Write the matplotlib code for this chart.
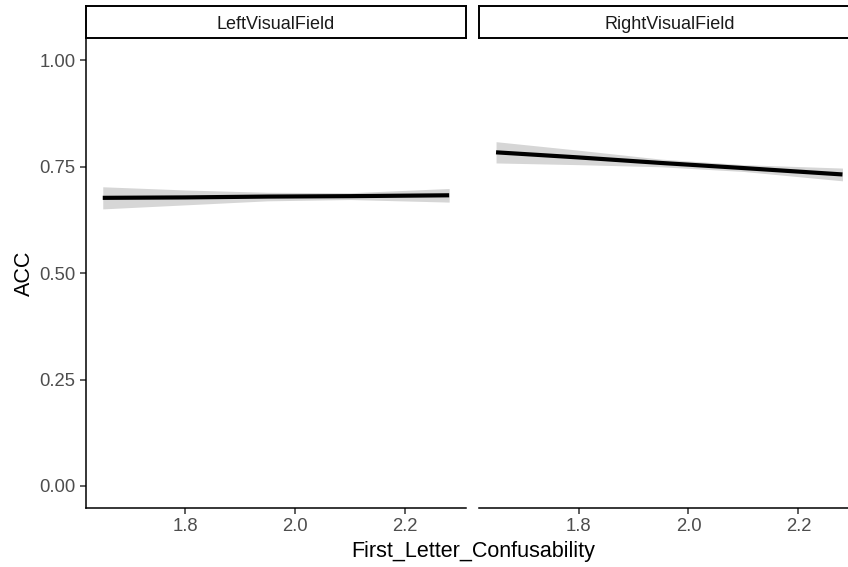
import numpy as np
import matplotlib
matplotlib.use("Agg")
import matplotlib.pyplot as plt

plt.rcParams['font.family'] = ['Liberation Sans', 'DejaVu Sans']

# data
panels = ["LeftVisualField", "RightVisualField"]
x_grid = [1.65, 1.80, 1.95, 2.10, 2.28]
left_fit = [0.677, 0.678, 0.680, 0.681, 0.683]
left_half = [0.026, 0.0175, 0.010, 0.008, 0.016]
right_fit = [0.784, 0.772, 0.759, 0.747, 0.732]
right_half = [0.025, 0.017, 0.009, 0.008, 0.015]
fits = [left_fit, right_fit]
halves = [left_half, right_half]

x_ticks = [1.8, 2.0, 2.2]
y_ticks = [0.00, 0.25, 0.50, 0.75, 1.00]
y_ticklabels = ["0.00", "0.25", "0.50", "0.75", "1.00"]

W, H = 848, 567
fig = plt.figure(figsize=(W / 100, H / 100), dpi=100)

panel_left = [85.7, 479.0]
panel_w = 380.5
panel_top, panel_bot = 38.3, 508.0
strip_top = 5.7

tick_col = "#4d4d4d"
x = np.array(x_grid)

for i, name in enumerate(panels):
    x0 = panel_left[i] / W
    ax = fig.add_axes([x0, 1 - panel_bot / H, panel_w / W, (panel_bot - panel_top) / H])
    f = np.array(fits[i])
    h = np.array(halves[i])
    ax.fill_between(x, f - h, f + h, color="#d6d6d6", lw=0, zorder=1)
    ax.plot(x, f, color="black", lw=3.0, solid_capstyle="butt", zorder=2)

    ax.set_xlim(1.619, 2.311)
    ax.set_ylim(-0.052, 1.052)
    ax.set_xticks(x_ticks)
    ax.set_xticklabels([f"{t:.1f}" for t in x_ticks])
    ax.set_yticks(y_ticks)
    ax.set_yticklabels(y_ticklabels)
    for s in ["top", "right"]:
        ax.spines[s].set_visible(False)
    ax.spines["bottom"].set_linewidth(1.1)
    ax.spines["left"].set_linewidth(1.1)
    ax.tick_params(axis="both", length=4.5, width=1.1, color="#333333",
                   labelcolor=tick_col, labelsize=13.3, pad=3)
    if i > 0:
        ax.spines["left"].set_visible(False)
        ax.tick_params(axis="y", left=False, labelleft=False)
    else:
        ax.set_ylabel("ACC", fontsize=15.5, labelpad=3)

    # facet strip
    sax = fig.add_axes([x0, 1 - panel_top / H, panel_w / W, (panel_top - strip_top) / H])
    sax.set_xticks([])
    sax.set_yticks([])
    for s in sax.spines.values():
        s.set_linewidth(1.4)
    sax.text(0.5, 0.47, name, ha="center", va="center_baseline", fontsize=13,
             color="#1a1a1a", transform=sax.transAxes)

fig.text((85.7 + 860) / 2 / W, 1 - 551 / H, "First_Letter_Confusability",
         ha="center", va="center", fontsize=15.5)

fig.savefig("out.png", dpi=100)
